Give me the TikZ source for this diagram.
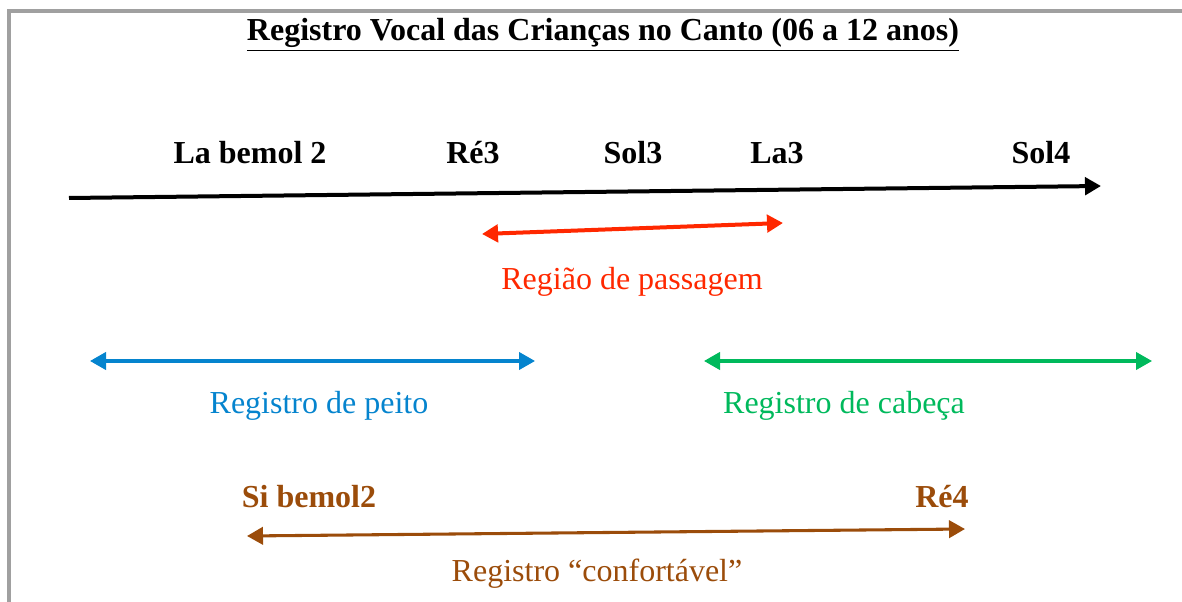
\documentclass[tikz,border=0pt]{standalone}
\usepackage{fontspec}
\setmainfont{Liberation Serif}
\usetikzlibrary{arrows.meta}
\definecolor{framegray}{RGB}{160,160,160}
\definecolor{redc}{RGB}{255,40,0}
\definecolor{bluec}{RGB}{5,132,206}
\definecolor{greenc}{RGB}{0,185,92}
\definecolor{brownc}{RGB}{155,76,10}
\tikzset{
  lbl/.style={inner sep=0pt, anchor=base, font=\fontsize{24}{28}\selectfont},
  blbl/.style={lbl, font=\fontsize{24}{28}\selectfont\bfseries},
  tip/.style={-{Triangle[length=12pt,width=13pt]}},
  dtip/.style={{Triangle[length=12pt,width=13pt]}-{Triangle[length=12pt,width=13pt]}},
}
\begin{document}
\begin{tikzpicture}[x=0.75pt,y=-0.75pt]
\useasboundingbox (0,0) rectangle (1182,602);
% frame
\draw[framegray, line width=2.4pt] (9,602) -- (9,11) -- (1182,11);
% title
\node[blbl] (title) at (603,41) {\underline{Registro Vocal das Crianças no Canto (06 a 12 anos)}};
% note labels
\node[blbl] (lab) at (250,164) {La bemol 2};
\node[blbl] (re3) at (473,164) {Ré3};
\node[blbl] (sol3) at (633,164) {Sol3};
\node[blbl] (la3) at (777,164) {La3};
\node[blbl] (sol4) at (1041,164) {Sol4};
% main axis
\coordinate (a1) at (69,198);
\coordinate (a2) at (1101,186);
\draw[tip, line width=3pt] (a1) -- (a2);
% passagem
\coordinate (r1) at (482,234);
\coordinate (r2) at (783,223);
\draw[dtip, redc, line width=3pt] (r1) -- (r2);
\node[lbl, redc] (pass) at (632,290) {Região de passagem};
% peito
\coordinate (b1) at (90,361);
\coordinate (b2) at (535,361);
\draw[dtip, bluec, line width=2.3pt] (b1) -- (b2);
\node[lbl, bluec] (peito) at (319,413) {Registro de peito};
% cabeca
\coordinate (g1) at (704,361);
\coordinate (g2) at (1152,361);
\draw[dtip, greenc, line width=2.3pt] (g1) -- (g2);
\node[lbl, greenc] (cabeca) at (844,413) {Registro de cabeça};
% confortavel
\node[blbl, brownc] (sib) at (309,507) {Si bemol2};
\node[blbl, brownc] (re4) at (942,507) {Ré4};
\coordinate (c1) at (247,536);
\coordinate (c2) at (965,529);
\draw[dtip, brownc, line width=2.3pt] (c1) -- (c2);
\node[lbl, brownc] (conf) at (597,581) {Registro “confortável”};
\end{tikzpicture}
\end{document}
